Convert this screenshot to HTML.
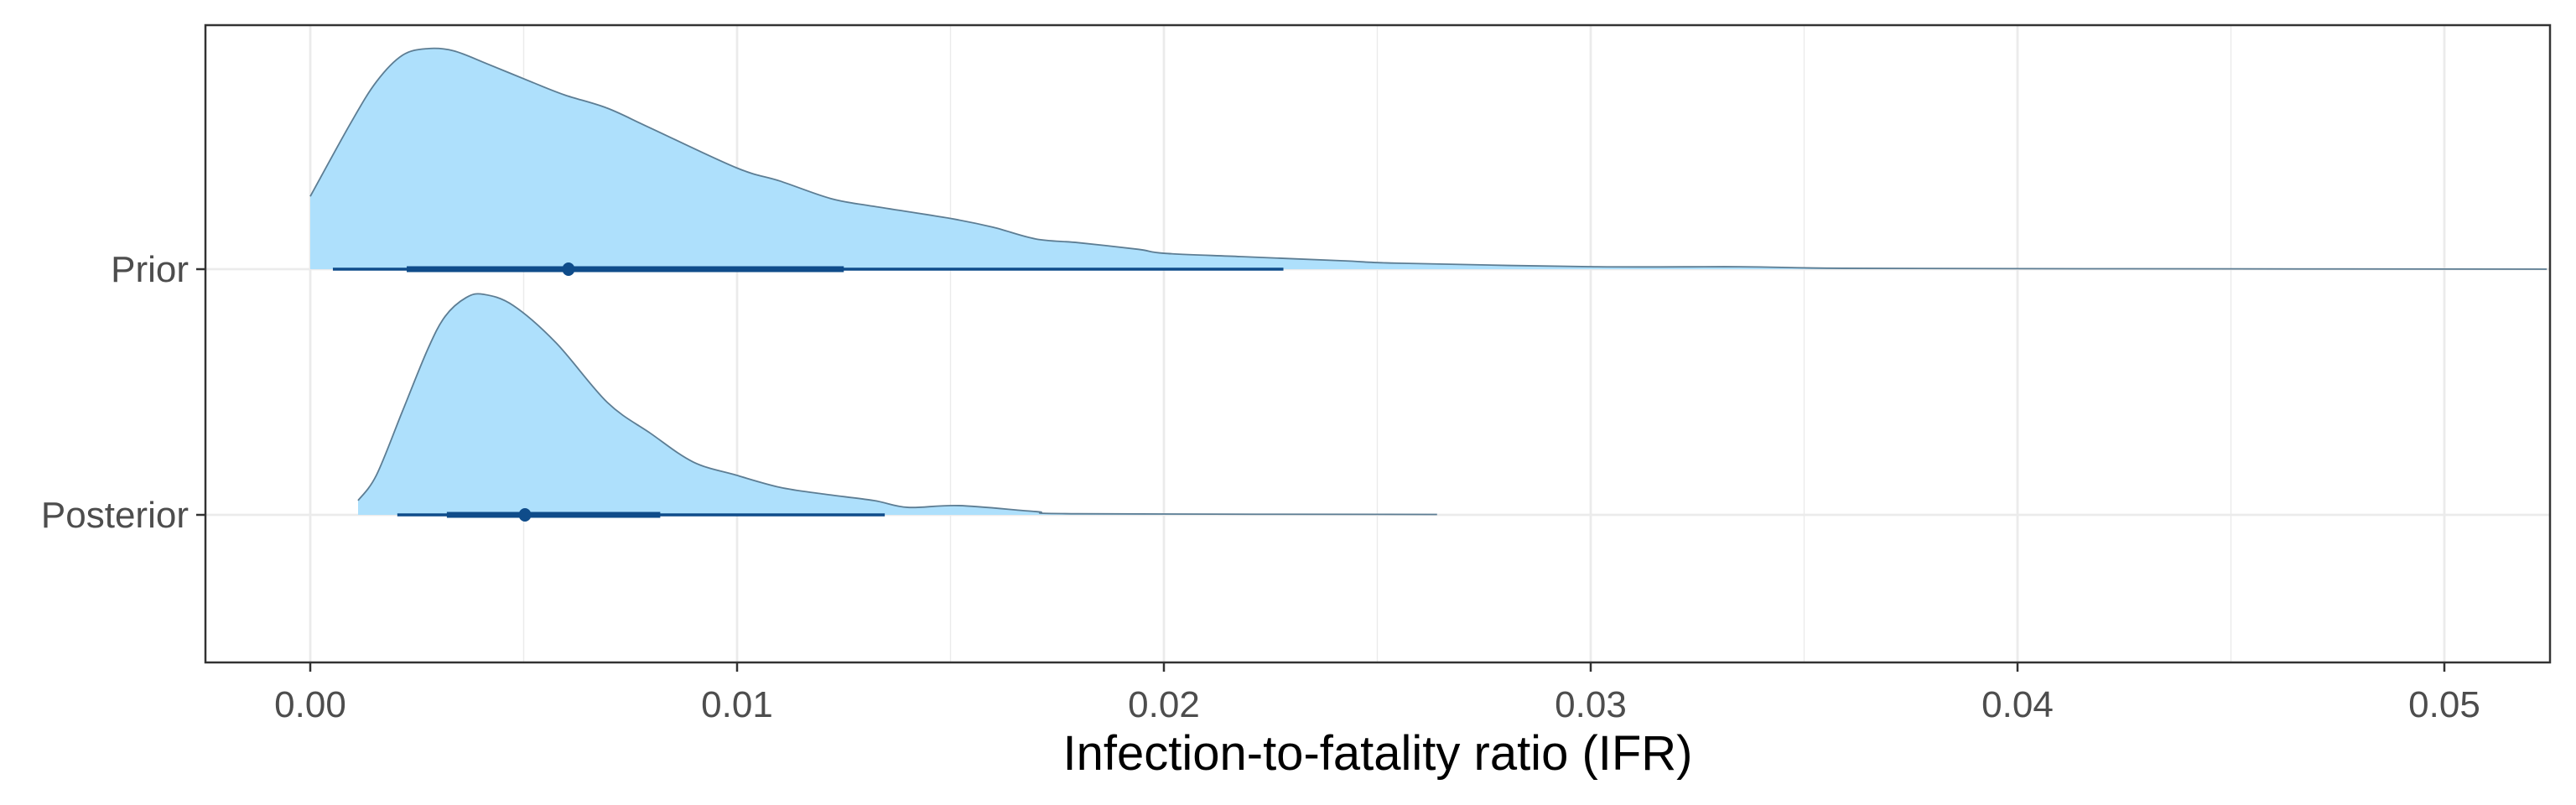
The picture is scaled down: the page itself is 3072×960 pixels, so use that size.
<!DOCTYPE html>
<html><head><meta charset="utf-8"><style>
html,body{margin:0;padding:0;background:#fff;}
svg{display:block;}
text{font-family:"Liberation Sans",Arial,sans-serif;}
</style></head><body>
<svg id="chart" width="3072" height="960" viewBox="0 0 3072 960" xmlns="http://www.w3.org/2000/svg">
<rect x="0" y="0" width="3072" height="960" fill="#fff"/>
<g id="grid"></g>
<g id="marks"></g>
<rect x="245" y="30" width="2796" height="760" fill="none" stroke="#333" stroke-width="2.5"/>
<g id="axes"></g>
<text x="1643" y="918" text-anchor="middle" font-size="58" fill="#000">Infection-to-fatality ratio (IFR)</text>
</svg>
<script>
const categories = ["Prior", "Posterior"];
const xTicks = [0, 0.01, 0.02, 0.03, 0.04, 0.05];
const xTickLabels = ["0.00", "0.01", "0.02", "0.03", "0.04", "0.05"];
const xMinor = [0.005, 0.015, 0.025, 0.035, 0.045];
const priorX = [0, 0.00094, 0.00155, 0.00216, 0.00275, 0.00336, 0.00416, 0.00517, 0.00596, 0.00696, 0.00797, 0.00998, 0.0110, 0.0122, 0.0132, 0.0150, 0.0160, 0.0170, 0.0180, 0.0194, 0.0200, 0.0218, 0.0242, 0.0255, 0.0301, 0.0335, 0.0359, 0.0416, 0.0524];
const priorD = [0.33, 0.66, 0.85, 0.97, 1.0, 0.99, 0.93, 0.85, 0.79, 0.73, 0.64, 0.46, 0.40, 0.32, 0.285, 0.23, 0.19, 0.137, 0.12, 0.09, 0.072, 0.057, 0.038, 0.027, 0.011, 0.011, 0.004, 0.002, 0.0];
const postX = [0.00112, 0.00155, 0.00216, 0.00275, 0.00316, 0.00365, 0.00406, 0.00475, 0.00576, 0.00696, 0.00797, 0.00897, 0.00998, 0.0110, 0.0120, 0.0132, 0.0140, 0.0152, 0.0170, 0.0180, 0.0264];
const postD = [0.065, 0.18, 0.47, 0.75, 0.90, 0.985, 1.0, 0.95, 0.78, 0.51, 0.37, 0.24, 0.18, 0.125, 0.095, 0.065, 0.034, 0.042, 0.015, 0.005, 0.002];
const pointEst = [0.00605, 0.00503];
const innerLo = [0.00226, 0.0032];
const innerHi = [0.0125, 0.0082];
const outerLo = [0.00053, 0.00204];
const outerHi = [0.0228, 0.01346];

const NS = "http://www.w3.org/2000/svg";
const X0 = 370, XPER = 50900, PL = 245, PR = 3041, PT = 30, PB = 790;
const baseY = [321, 614];
const HMAX = 263;
function xs(v){ return X0 + v * XPER; }
function yBand(i){ return baseY[i]; }
function mk(tag, attrs, parent){ const e = document.createElementNS(NS, tag); for (const k in attrs) e.setAttribute(k, attrs[k]); parent.appendChild(e); return e; }
const grid = document.getElementById('grid'), marks = document.getElementById('marks'), axes = document.getElementById('axes');

xMinor.forEach(v => {
  const l = mk('line', {x1: xs(v), x2: xs(v), y1: PT, y2: PB, stroke: '#ebebeb', 'stroke-width': 1.4}, grid);
  
  
});
xTicks.forEach(v => {
  const l = mk('line', {x1: xs(v), x2: xs(v), y1: PT, y2: PB, stroke: '#ebebeb', 'stroke-width': 2.8}, grid);
  
  
});
categories.forEach((c, i) => {
  const l = mk('line', {x1: PL, x2: PR, y1: yBand(i), y2: yBand(i), stroke: '#ebebeb', 'stroke-width': 2.8}, grid);
  
  
});

function smoothPath(pts){
  let d = '';
  for (let k = 0; k < pts.length - 1; k++) {
    const p0 = pts[Math.max(0, k-1)], p1 = pts[k], p2 = pts[k+1], p3 = pts[Math.min(pts.length-1, k+2)];
    const c1x = p1[0] + (p2[0]-p0[0])/6, c1y = p1[1] + (p2[1]-p0[1])/6;
    const c2x = p2[0] - (p3[0]-p1[0])/6, c2y = p2[1] - (p3[1]-p1[1])/6;
    d += ' C' + c1x + ',' + c1y + ' ' + c2x + ',' + c2y + ' ' + p2[0] + ',' + p2[1];
  }
  return d;
}
function density(xArr, dArr, i, name){
  const b = yBand(i);
  const pts = xArr.map((v, k) => [xs(v), b - dArr[k] * HMAX]);
  const curve = smoothPath(pts);
  const d = 'M' + pts[0][0] + ',' + b + ' L' + pts[0][0] + ',' + pts[0][1] + curve + ' L' + pts[pts.length-1][0] + ',' + b + ' Z';
  const f = mk('path', {d: d, fill: '#aee0fc', stroke: 'none'}, marks);
  
  
  const s = mk('path', {d: 'M' + pts[0][0] + ',' + pts[0][1] + curve, fill: 'none', stroke: '#5d7d93', 'stroke-width': 1.8, 'stroke-linejoin': 'round'}, marks);
  
  
}
density(priorX, priorD, 0, 'prior');
density(postX, postD, 1, 'posterior');

categories.forEach((c, i) => {
  const b = yBand(i);
  const o = mk('line', {x1: xs(outerLo[i]), x2: xs(outerHi[i]), y1: b, y2: b, stroke: '#0f4c8a', 'stroke-width': 3.5}, marks);
  
  
  const n = mk('line', {x1: xs(innerLo[i]), x2: xs(innerHi[i]), y1: b, y2: b, stroke: '#0f4c8a', 'stroke-width': 7}, marks);
  
  
  const p = mk('ellipse', {cx: xs(pointEst[i]), cy: b, rx: 7.5, ry: 8, fill: '#0f4c8a'}, marks);
  
  
  const t = mk('line', {x1: PL - 11, x2: PL, y1: b, y2: b, stroke: '#333', 'stroke-width': 2.5}, axes);
  
  
  const lab = mk('text', {x: PL - 20, y: b + 15, 'text-anchor': 'end', 'font-size': 44, fill: '#4d4d4d'}, axes);
  lab.textContent = c;
  
  
});

xTicks.forEach((v, k) => {
  const t = mk('line', {x1: xs(v), x2: xs(v), y1: PB, y2: PB + 11, stroke: '#333', 'stroke-width': 2.5}, axes);
  
  
  const lab = mk('text', {x: xs(v), y: 855, 'text-anchor': 'middle', 'font-size': 44, fill: '#4d4d4d'}, axes);
  lab.textContent = xTickLabels[k];
  
  
});
</script>
</body></html>
